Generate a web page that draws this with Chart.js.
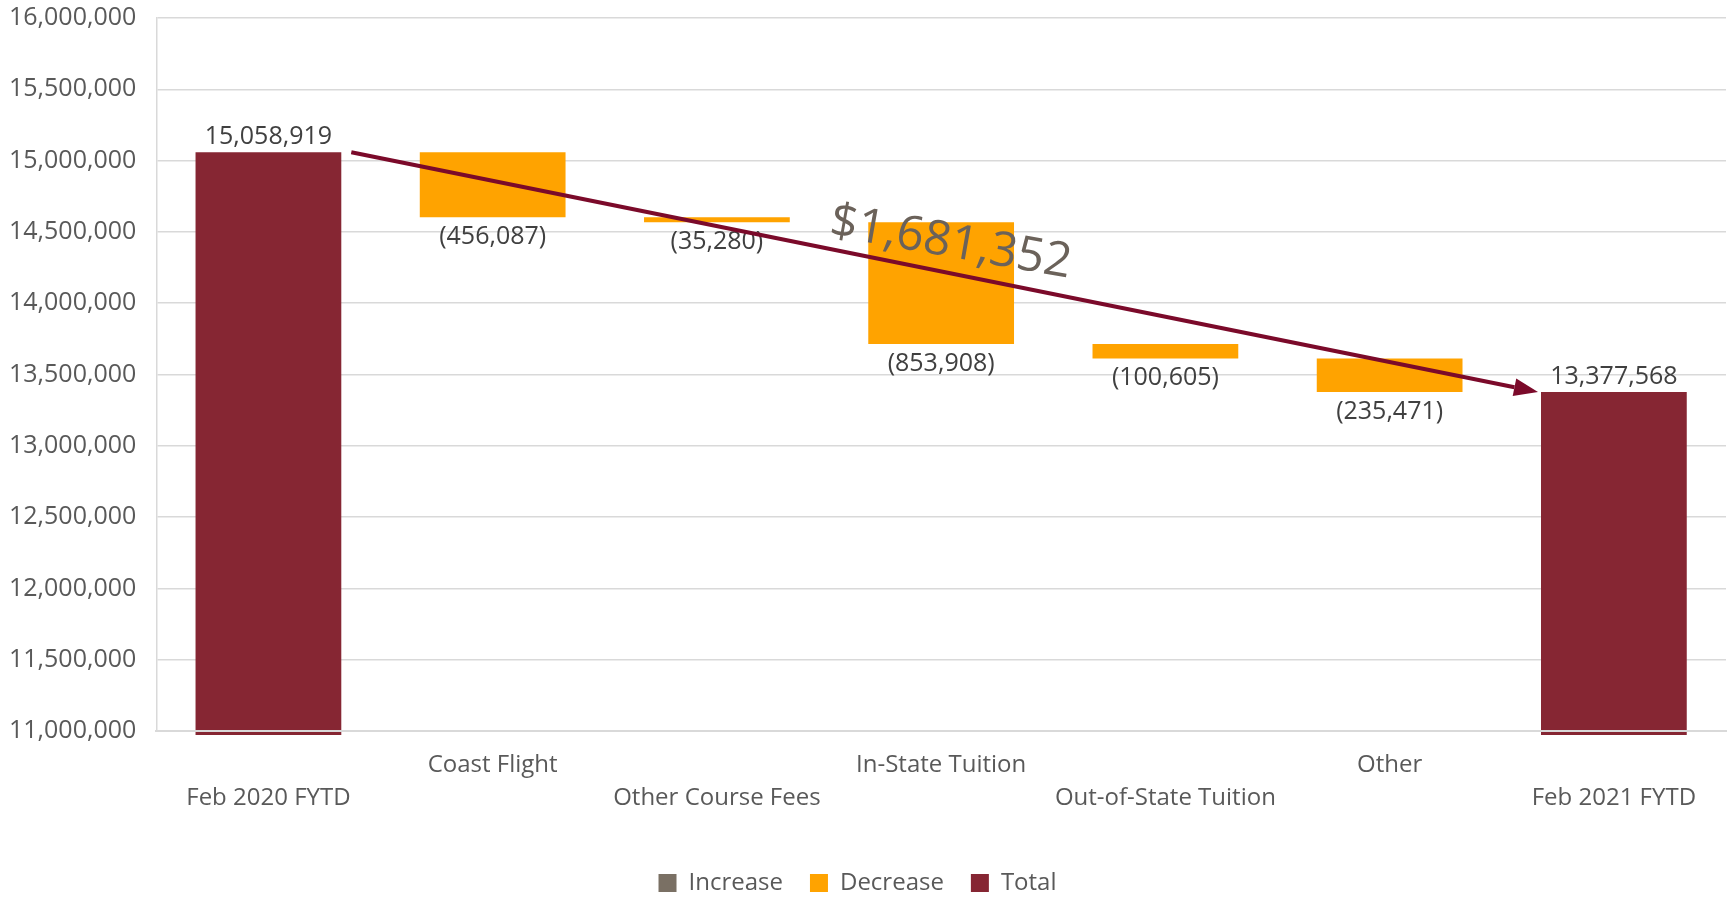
<!DOCTYPE html>
<html>
<head>
<meta charset="utf-8">
<script src="https://cdn.jsdelivr.net/npm/chart.js@4.4.1/dist/chart.umd.min.js"></script>
<style>
  html, body { margin: 0; padding: 0; background: #ffffff; }
  #wrap { width: 1729px; height: 897px; position: relative; }
</style>
</head>
<body>
<div id="wrap"><canvas id="waterfallChart"></canvas></div>
<script>
// values
const categories = [
    ['', 'Feb 2020 FYTD'],
    ['Coast Flight'],
    ['', 'Other Course Fees'],
    ['In-State Tuition'],
    ['', 'Out-of-State Tuition'],
    ['Other'],
    ['', 'Feb 2021 FYTD']
];
const startTotal = 15058919;
const changes = [-456087, -35280, -853908, -100605, -235471];
const endTotal = 13377568;
const totalChangeText = '$1,681,352';
const yMin = 11000000;
const yMax = 16000000;
const yStep = 500000;

const colIncrease = '#7a7064';
const colDecrease = '#ffa300';
const colTotal = '#862633';
const colArrow = '#7b0a2a';

document.addEventListener('DOMContentLoaded', () => {
    const ctx = document.getElementById('waterfallChart').getContext('2d');

    // build the floating bars from the running total
    const increaseData = categories.map(() => null);
    const decreaseData = categories.map(() => null);
    const totalData = categories.map(() => null);
    totalData[0] = startTotal;
    totalData[categories.length - 1] = endTotal;
    let running = startTotal;
    changes.forEach((c, i) => {
        const next = running + c;
        if (c < 0) decreaseData[i + 1] = [running, next];
        else increaseData[i + 1] = [running, next];
        running = next;
    });

    const fmt = v => Math.round(v).toLocaleString('en-US');

    const labelPlugin = {
        id: 'waterfallLabels',
        afterDatasetsDraw(chart) {
            const c = chart.ctx;
            c.save();
            c.font = "25px 'Open Sans', sans-serif";
            c.fillStyle = '#404040';
            c.textAlign = 'center';

            // decrease labels under the bars
            const decMeta = chart.getDatasetMeta(1);
            decMeta.data.forEach((bar, i) => {
                const v = decreaseData[i];
                if (!v) return;
                const bottom = Math.max(bar.y, bar.base);
                c.textBaseline = 'top';
                c.fillText('(' + fmt(Math.abs(v[1] - v[0])) + ')', bar.x, bottom + 7);
            });

            // total labels above the bars
            const totMeta = chart.getDatasetMeta(2);
            totMeta.data.forEach((bar, i) => {
                const v = totalData[i];
                if (v === null) return;
                c.textBaseline = 'bottom';
                c.fillText(fmt(v), bar.x, bar.y - 3);
            });

            // arrow from first total to last total
            const first = totMeta.data[0];
            const last = totMeta.data[categories.length - 1];
            const x1 = first.x + first.width / 2 + 10;
            const y1 = first.y;
            const x2 = last.x - last.width / 2 - 3;
            const y2 = last.y;
            const ang = Math.atan2(y2 - y1, x2 - x1);
            const headLen = 24;
            const headW = 9;
            c.strokeStyle = colArrow;
            c.fillStyle = colArrow;
            c.lineWidth = 4;
            c.beginPath();
            c.moveTo(x1, y1);
            c.lineTo(x2 - headLen * Math.cos(ang), y2 - headLen * Math.sin(ang));
            c.stroke();
            c.beginPath();
            c.moveTo(x2, y2);
            c.lineTo(x2 - headLen * Math.cos(ang) + headW * Math.sin(ang), y2 - headLen * Math.sin(ang) - headW * Math.cos(ang));
            c.lineTo(x2 - headLen * Math.cos(ang) - headW * Math.sin(ang), y2 - headLen * Math.sin(ang) + headW * Math.cos(ang));
            c.closePath();
            c.fill();

            // rotated total change text near the arrow middle
            const mx = (x1 + x2) / 2 + 6;
            const my = (y1 + y2) / 2 - 29;
            c.translate(mx, my);
            c.rotate(10 * Math.PI / 180);
            c.font = "48px 'Open Sans', sans-serif";
            c.fillStyle = '#6b625a';
            c.textBaseline = 'middle';
            c.fillText(totalChangeText, 0, 0);
            c.restore();
        }
    };

    Chart.defaults.font.family = "'Open Sans', sans-serif";
    Chart.defaults.color = '#595959';

    new Chart(ctx, {
        type: 'bar',
        data: {
            labels: categories,
            datasets: [
                { label: 'Increase', data: increaseData, backgroundColor: colIncrease, borderWidth: 0 },
                { label: 'Decrease', data: decreaseData, backgroundColor: colDecrease, borderWidth: 0 },
                { label: 'Total', data: totalData, backgroundColor: colTotal, borderWidth: 0,
                  clip: { left: 0, top: 0, right: 0, bottom: 4 } }
            ]
        },
        options: {
            responsive: true,
            maintainAspectRatio: false,
            animation: false,
            datasets: { bar: { barPercentage: 0.65, categoryPercentage: 1 } },
            layout: { padding: { left: -11, right: 3, top: 0, bottom: -8 } },
            scales: {
                x: {
                    stacked: true,
                    grid: { display: false, drawTicks: false },
                    border: { display: true, color: '#d9d9d9', width: 2, z: 1 },
                    ticks: {
                        font: { size: 24, lineHeight: 1.375 },
                        padding: 18,
                        maxRotation: 0,
                        minRotation: 0,
                        autoSkip: false
                    },
                    afterFit: scale => { scale.height += 11; }
                },
                y: {
                    min: yMin,
                    max: yMax,
                    grid: { color: '#d9d9d9', lineWidth: 1.5, drawTicks: false },
                    border: { display: true, color: '#d9d9d9', width: 1.5 },
                    ticks: {
                        stepSize: yStep,
                        padding: 20,
                        font: { size: 25 },
                        callback: v => fmt(v)
                    },
                    afterFit: scale => { scale.paddingTop = 18; }
                }
            },
            plugins: {
                legend: {
                    position: 'bottom',
                    labels: {
                        boxWidth: 18,
                        boxHeight: 18,
                        padding: 27,
                        font: { size: 24 },
                        color: '#595959'
                    }
                },
                tooltip: { enabled: false }
            }
        },
        plugins: [labelPlugin]
    });
});
</script>
</body>
</html>
